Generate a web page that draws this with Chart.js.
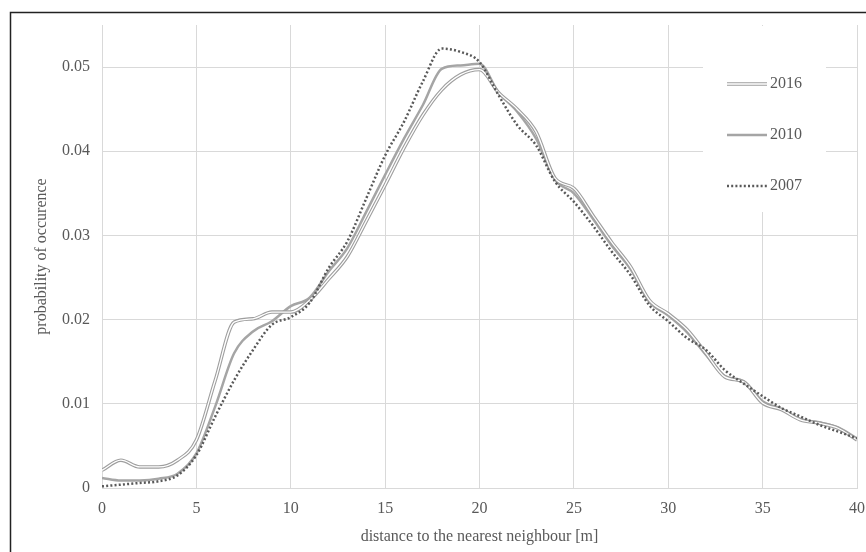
<!DOCTYPE html>
<html>
<head>
<meta charset="utf-8">
<script src="https://cdn.jsdelivr.net/npm/chart.js@4.4.1/dist/chart.umd.min.js"></script>
<style>
  html, body { margin: 0; padding: 0; background: #fff; }
  canvas { display: block; }
</style>
</head>
<body>
<canvas id="chart" width="866" height="552"></canvas>
<script>
var distance = [0, 1, 2, 3, 4, 5, 6, 7, 8, 9, 10, 11, 12, 13, 14, 15, 16, 17, 18, 19, 20,
  21, 22, 23, 24, 25, 26, 27, 28, 29, 30, 31, 32, 33, 34, 35, 36, 37, 38, 39, 40];

var prob2016 = [0.0021, 0.0033, 0.0025, 0.0025, 0.0033, 0.0057, 0.0128, 0.0197, 0.0201, 0.0209,
  0.0209, 0.0223, 0.0248, 0.0275, 0.0317, 0.0360, 0.0404, 0.0443, 0.0473, 0.0491,
  0.0497, 0.0470, 0.0450, 0.0423, 0.0368, 0.0356, 0.0324, 0.0292, 0.0263, 0.0223,
  0.0207, 0.0188, 0.0160, 0.0132, 0.0126, 0.0101, 0.0093, 0.0081, 0.0077, 0.0071, 0.0057];

var prob2010 = [0.0012, 0.0009, 0.0009, 0.0011, 0.0017, 0.0041, 0.0097, 0.0160, 0.0186, 0.0198,
  0.0216, 0.0226, 0.0257, 0.0285, 0.0328, 0.0372, 0.0415, 0.0455, 0.0498, 0.0502,
  0.0504, 0.0470, 0.0447, 0.0415, 0.0366, 0.0350, 0.0320, 0.0288, 0.0260, 0.0221,
  0.0205, 0.0185, 0.0158, 0.0133, 0.0127, 0.0103, 0.0094, 0.0082, 0.0078, 0.0072, 0.0059];

var prob2007 = [0.0002, 0.0004, 0.0006, 0.0008, 0.0015, 0.0039, 0.0085, 0.0128, 0.0164, 0.0194,
  0.0203, 0.0220, 0.0261, 0.0293, 0.0344, 0.0395, 0.0435, 0.0483, 0.0522, 0.0518,
  0.0506, 0.0467, 0.0431, 0.0407, 0.0364, 0.0340, 0.0312, 0.0281, 0.0253, 0.0217,
  0.0198, 0.0178, 0.0164, 0.0140, 0.0124, 0.0109, 0.0095, 0.0085, 0.0075, 0.0067, 0.0059];

var xTicks = [0, 5, 10, 15, 20, 25, 30, 35, 40];
var yTicks = [0, 0.01, 0.02, 0.03, 0.04, 0.05];

var FONT = "'Liberation Serif', 'Times New Roman', serif";
var TEXT = '#595959';
var GRID = '#d9d9d9';

function toPoints(values) {
  return distance.map(function (d, i) { return { x: d, y: values[i] }; });
}

// legend drawn by hand: white box inside the plot, stacked entries
var legendBox = {
  id: 'legendBox',
  beforeDatasetsDraw: function (chart) {
    var ctx = chart.ctx;
    var items = [
      { label: '2016', y: 84, kind: 'double' },
      { label: '2010', y: 135, kind: 'solid' },
      { label: '2007', y: 186, kind: 'dotted' }
    ];
    ctx.save();
    ctx.fillStyle = '#fff';
    ctx.fillRect(703, 26, 123, 186);
    items.forEach(function (it) {
      ctx.beginPath();
      ctx.moveTo(727, it.y);
      ctx.lineTo(767, it.y);
      if (it.kind == 'double') {
        ctx.strokeStyle = '#9e9e9e'; ctx.lineWidth = 3.5; ctx.stroke();
        ctx.strokeStyle = '#fff'; ctx.lineWidth = 1.3; ctx.stroke();
      } else if (it.kind == 'solid') {
        ctx.strokeStyle = '#a5a5a5'; ctx.lineWidth = 2.5; ctx.stroke();
      } else {
        ctx.setLineDash([2, 2.2]);
        ctx.strokeStyle = '#595959'; ctx.lineWidth = 2.5; ctx.stroke();
        ctx.setLineDash([]);
      }
      ctx.fillStyle = TEXT;
      ctx.font = '16px ' + FONT;
      ctx.textAlign = 'left';
      ctx.textBaseline = 'middle';
      ctx.fillText(it.label, 770, it.y);
    });
    ctx.restore();
  },
  afterDraw: function (chart) {
    // black frame (left and top edges)
    var ctx = chart.ctx;
    ctx.save();
    ctx.strokeStyle = '#222';
    ctx.lineWidth = 1.5;
    ctx.beginPath();
    ctx.moveTo(10.5, 552);
    ctx.lineTo(10.5, 12.5);
    ctx.lineTo(866, 12.5);
    ctx.stroke();
    ctx.restore();
  }
};

new Chart(document.getElementById('chart'), {
  type: 'line',
  data: {
    datasets: [
      {
        label: '2007',
        data: toPoints(prob2007),
        borderColor: '#595959',
        borderWidth: 2.5,
        borderDash: [2, 2.2],
        pointRadius: 0,
        cubicInterpolationMode: 'monotone'
      },
      {
        label: '2016 inner',
        data: toPoints(prob2016),
        borderColor: '#ffffff',
        borderWidth: 1.3,
        pointRadius: 0,
        cubicInterpolationMode: 'monotone'
      },
      {
        label: '2016',
        data: toPoints(prob2016),
        borderColor: '#9e9e9e',
        borderWidth: 3.5,
        pointRadius: 0,
        cubicInterpolationMode: 'monotone'
      },
      {
        label: '2010',
        data: toPoints(prob2010),
        borderColor: '#a5a5a5',
        borderWidth: 2.5,
        pointRadius: 0,
        cubicInterpolationMode: 'monotone'
      }
    ]
  },
  options: {
    responsive: false,
    animation: false,
    devicePixelRatio: 1,
    layout: { padding: { left: 0, top: 25, right: 0, bottom: 0 } },
    plugins: {
      legend: { display: false },
      tooltip: { enabled: false }
    },
    scales: {
      x: {
        type: 'linear',
        min: 0,
        max: 40,
        afterFit: function (scale) {
          scale.height = 64;
          scale.paddingLeft = 0;
          scale.paddingRight = 9;
        },
        afterBuildTicks: function (scale) {
          scale.ticks = xTicks.map(function (v) { return { value: v }; });
        },
        grid: { color: GRID, lineWidth: 1, drawTicks: false },
        border: { color: GRID },
        ticks: {
          padding: 11,
          color: TEXT,
          font: { family: FONT, size: 16 },
          maxRotation: 0
        },
        title: {
          display: true,
          text: 'distance to the nearest neighbour [m]',
          color: TEXT,
          font: { family: FONT, size: 16 },
          padding: { top: 0, bottom: 6 }
        }
      },
      y: {
        min: 0,
        max: 0.055,
        afterFit: function (scale) {
          scale.width = 102;
          scale.paddingTop = 0;
          scale.paddingBottom = 0;
        },
        afterBuildTicks: function (scale) {
          scale.ticks = yTicks.map(function (v) { return { value: v }; });
        },
        grid: { color: GRID, lineWidth: 1, drawTicks: false },
        border: { color: GRID },
        ticks: {
          padding: 12,
          color: TEXT,
          font: { family: FONT, size: 16 },
          callback: function (v) { return String(Math.round(v * 100) / 100); }
        },
        title: {
          display: true,
          text: 'probability of occurence',
          color: TEXT,
          font: { family: FONT, size: 16 },
          padding: { top: 32, bottom: 0 }
        }
      }
    }
  },
  plugins: [legendBox]
});
</script>
</body>
</html>
